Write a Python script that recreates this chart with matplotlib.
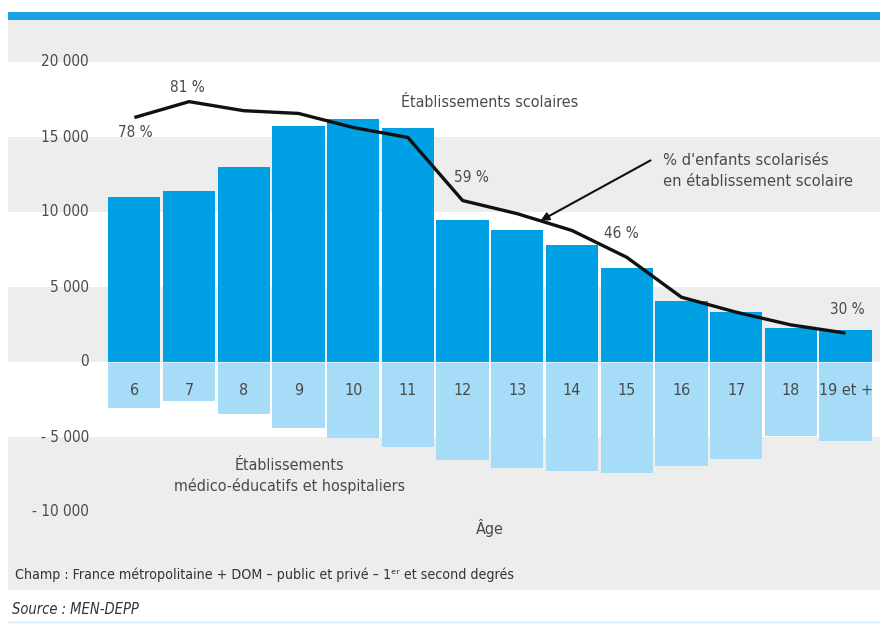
import matplotlib.pyplot as plt
from matplotlib.patches import Rectangle
from matplotlib.lines import Line2D

# ages (x axis categories)
ages = ['6', '7', '8', '9', '10', '11', '12', '13', '14', '15', '16', '17', '18', '19 et +']

# pupils in schools (positive bars)
scolaires = [11000, 11400, 13000, 15700, 16200, 15600, 9450, 8800, 7800, 6250, 4100, 3350, 2250, 2150]

# pupils in medico-educational / hospital establishments (negative bars)
medico = [-3050, -2600, -3450, -4400, -5050, -5650, -6500, -7050, -7250, -7400, -6900, -6450, -4900, -5250]

# share of children schooled in a school (%)
taux = [77.5, 81, 79, 78.4, 75.3, 73.1, 59.2, 56.3, 52.6, 46.7, 37.9, 34.6, 31.8, 30]

yticks = [20000, 15000, 10000, 5000, 0, -5000, -10000]
ytick_labels = ['20 000', '15 000', '10 000', '5 000', '0', '- 5 000', '- 10 000']

DARK = '#00a0e4'
LIGHT = '#a6dcf8'
GREY = '#ededed'
TXT = '#4a4a4a'

plt.rcParams['font.family'] = ['DejaVu Sans']
plt.rcParams['font.stretch'] = 'condensed'

fig = plt.figure(figsize=(8.8, 6.25), dpi=100)
W, H = 880, 625

# axes placed in pixel terms
ax = fig.add_axes([8 / W, 1 - 590 / H, 872 / W, 570 / H])
ymin, ymax = -15200, 22800
ax.set_ylim(ymin, ymax)
ax.set_xlim(-2.31, 13.63)
ax.axis('off')

# alternating grey bands
for lo, hi in [(20000, ymax), (10000, 15000), (0, 5000), (ymin, -5000)]:
    ax.axhspan(lo, hi, color=GREY, zorder=0, lw=0)

x = list(range(len(ages)))
ax.bar(x, scolaires, width=0.955, color=DARK, zorder=2, lw=0)
ax.bar(x, medico, width=0.955, color=LIGHT, zorder=2, lw=0)
ax.axhline(0, xmin=0.11, color='white', lw=0.8, alpha=0.6, zorder=3)

# y tick labels written inside the plot area
for v, lab in zip(yticks, ytick_labels):
    ax.text(-0.83, v, lab, ha='right', va='center', fontsize=11, color=TXT)

# age labels inside the light bars
for i, a in enumerate(ages):
    ax.text(i, -1870, a, ha='center', va='center', fontsize=11.5, color=TXT)

# percentage line on a twin scale
ax2 = ax.twinx()
ax2.set_ylim((ymin + 7145) / 302.5, (ymax + 7145) / 302.5)
ax2.axis('off')
ax2.plot(x, taux, color='#111111', lw=2.4, zorder=5, solid_capstyle='butt')

# percentage labels
ax.text(0.01, 15330, '78 %', ha='center', va='center', fontsize=11, color=TXT)
ax.text(0.97, 18330, '81 %', ha='center', va='center', fontsize=11, color=TXT)
ax.text(6.16, 12330, '59 %', ha='center', va='center', fontsize=11, color=TXT)
ax.text(8.9, 8600, '46 %', ha='center', va='center', fontsize=11, color=TXT)
ax.text(13.03, 3470, '30 %', ha='center', va='center', fontsize=11, color=TXT)

ax.text(6.5, 17330, 'Établissements scolaires', ha='center', va='center', fontsize=11.5, color=TXT)
ax.text(9.66, 12730, "% d'enfants scolarisés\nen établissement scolaire", ha='left', va='center',
        fontsize=11.8, color=TXT, linespacing=1.45)
ax.annotate('', xy=(7.38, 9330), xytext=(9.48, 13530),
            arrowprops=dict(arrowstyle='-|>', color='#111111', lw=1.5, mutation_scale=12), zorder=6)

ax.text(2.84, -7600, 'Établissements\nmédico-éducatifs et hospitaliers', ha='center', va='center',
        fontsize=11.5, color=TXT, linespacing=1.45)
ax.text(6.5, -11070, 'Âge', ha='center', va='center', fontsize=11.5, color=TXT)
ax.text(-2.18, -14200, 'Champ : France métropolitaine + DOM – public et privé – 1ᵉʳ et second degrés',
        ha='left', va='center', fontsize=10.2, color='#333333')

# top blue rule and bottom thin line
fig.patches.append(Rectangle((8 / W, 1 - 20 / H), 872 / W, 8 / H, transform=fig.transFigure,
                             color='#1aa3e3', lw=0))
fig.lines.append(Line2D([8 / W, 1], [1 - 622 / H] * 2, transform=fig.transFigure,
                        color='#cfe9f8', lw=1))
fig.text(12 / W, 1 - 610 / H, 'Source : MEN-DEPP', ha='left', va='center', fontsize=10.5,
         style='italic', color='#333333')

fig.savefig('out.png', dpi=100)
